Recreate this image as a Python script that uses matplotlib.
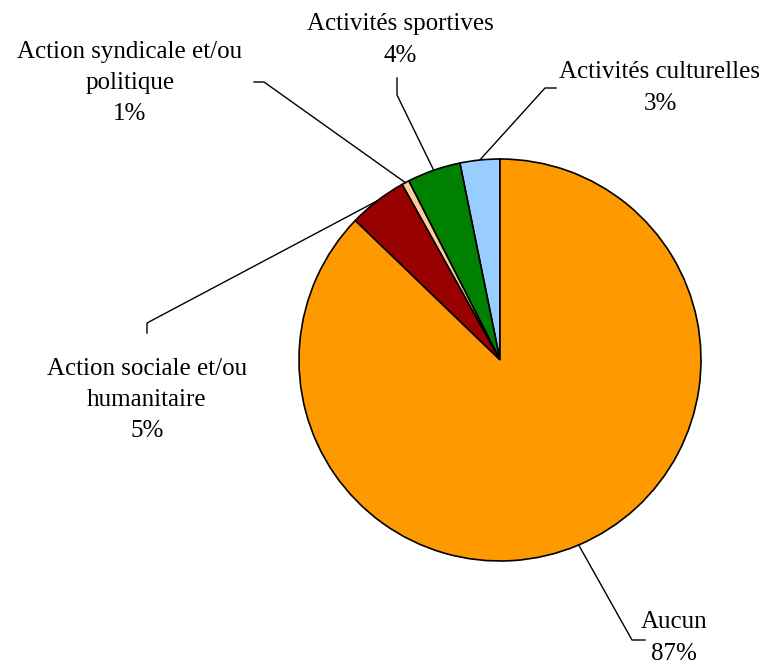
import numpy as np
import matplotlib.pyplot as plt

# ===============================
# Data
# ===============================
labels = ["Activités culturelles", "Activités sportives", "Action syndicale et/ou\npolitique",
          "Action sociale et/ou\nhumanitaire", "Aucun"]
values = [3.2, 4.3, 0.6, 4.7, 87.2]
shown_pct = ["3%", "4%", "1%", "5%", "87%"]
colors = ["#99CCFF", "#008000", "#FFCC99", "#990000", "#FF9900"]

W, H = 765, 668
fig = plt.figure(figsize=(W / 100, H / 100), dpi=100)
ax = fig.add_axes([0, 0, 1, 1])

cx, cy, r = 500, H - 360, 201
wedges, _ = ax.pie(values, colors=colors, startangle=90, counterclock=True,
                   center=(cx, cy), radius=r, frame=True,
                   wedgeprops=dict(edgecolor="black", linewidth=1.2))
ax.set_xlim(0, W)
ax.set_ylim(0, H)
ax.axis("off")

# label block centres and leader elbows (pixel coords, y from top)
label_pos = [(660, 88), (400, 40), (130, 83), (147, 400), (674, 638)]
elbows = [[(556, 88), (545, 88)],
          [(397, 78), (397, 95)],
          [(254, 82), (264, 82)],
          [(147, 333), (147, 323)],
          [(645, 640), (632, 640)]]

font = dict(family=["Liberation Serif", "DejaVu Serif"], fontsize=18)
for w, lab, pct, pos, elb in zip(wedges, labels, shown_pct, label_pos, elbows):
    ax.text(pos[0], H - pos[1], f"{lab}\n{pct}", ha="center", va="center",
            linespacing=1.55, **font)
    mid = np.deg2rad((w.theta1 + w.theta2) / 2)
    ex, ey = cx + r * np.cos(mid), cy + r * np.sin(mid)
    xs = [elb[0][0], elb[1][0], ex]
    ys = [H - elb[0][1], H - elb[1][1], ey]
    ax.plot(xs, ys, color="black", linewidth=1.0)

plt.savefig("out.png", dpi=100)
plt.close()
